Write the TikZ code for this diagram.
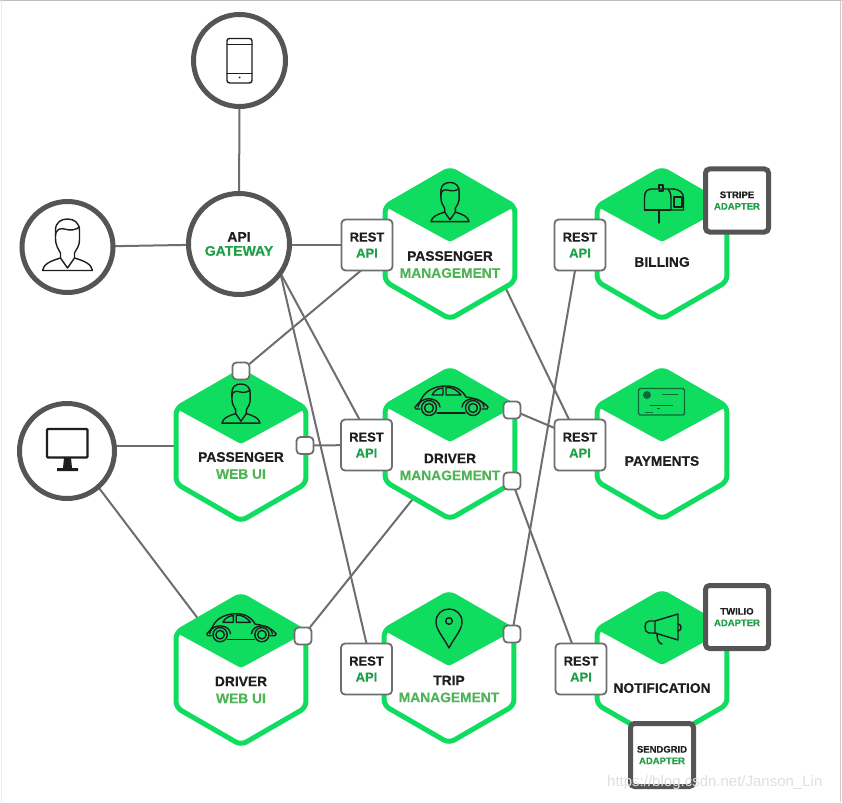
\documentclass[tikz,border=0pt]{standalone}
\usepackage{fontspec}
\setmainfont[BoldFeatures={FakeBold=0.3}]{Liberation Sans}
\usetikzlibrary{shapes.geometric,calc}
\definecolor{hexgreen}{HTML}{10DC60}
\definecolor{txtgreen}{HTML}{1F9F48}
\definecolor{lblgreen}{HTML}{4DB556}
\definecolor{ink}{HTML}{1E1E1E}
\definecolor{ringgray}{HTML}{555555}
\definecolor{wiregray}{HTML}{6E6E6E}
\definecolor{cardink}{HTML}{0C6A3A}
\pgfdeclarelayer{bg}
\pgfsetlayers{bg,main}
\tikzset{
  ring/.style={circle,draw=ringgray,line width=5pt,fill=white,inner sep=0pt,outer sep=0pt,minimum size=#1},
  hexshape/.style={regular polygon,regular polygon sides=6,shape border rotate=30,draw=hexgreen,line width=5pt,fill=white,rounded corners=6pt,inner sep=0pt,outer sep=0pt,minimum size=150pt},
  hexlabel/.style={align=center,text=ink,font=\bfseries\fontsize{13.8}{17}\selectfont,inner sep=0pt},
  restbox/.style={rectangle,draw=wiregray,line width=1.8pt,fill=white,rounded corners=4pt,minimum size=51pt,inner sep=0pt,outer sep=0pt,align=center,text=ink,font=\bfseries\fontsize{13}{16}\selectfont},
  portbox/.style={rectangle,draw=wiregray,line width=1.8pt,fill=white,rounded corners=4pt,minimum size=17pt,inner sep=0pt,outer sep=0pt},
  adapterbox/.style={rectangle,draw=ringgray,line width=5pt,fill=white,rounded corners=4pt,minimum size=63pt,inner sep=0pt,outer sep=0pt,align=center,text=ink,font=\bfseries\fontsize{9.5}{11.5}\selectfont},
  gwlabel/.style={ring=101pt,align=center,text=ink,font=\bfseries\fontsize{14}{14}\selectfont},
  wire/.style={draw=wiregray,line width=2pt},
  icon/.style={draw=ink,line width=1.4pt,line join=round,line cap=round},
  pics/personicon/.style={code={
    \draw[icon] (-12,-8) -- (-12,-16) .. controls (-12,-24) and (-6,-27) .. (0,-27)
      .. controls (7,-27) and (12,-23) .. (12,-15) -- (12,-6)
      .. controls (12,0) and (9,3) .. (7,7) -- (7,12)
      .. controls (17,15) and (24,18) .. (25,24.5) -- (-25,24.5)
      .. controls (-24,18) and (-17,15) .. (-7,12) -- (-7,7)
      .. controls (-9,3) and (-12,0) .. (-12,-8);
    \draw[icon] (-12,-10) .. controls (-12,-17) and (-7,-18) .. (-3,-17)
      .. controls (3,-15) and (8,-16) .. (12,-19);
    \draw[icon] (-7,12) -- (0,22) -- (7,12);
  }},
  pics/caricon/.style={code={
    \draw[icon] (-36,6) .. controls (-33,3) and (-31,1) .. (-29,-3)
      .. controls (-25,-11) and (-15,-15) .. (-5,-15)
      .. controls (5,-15) and (11,-11) .. (15,-4)
      .. controls (25,-3) and (33,1) .. (37,6) -- (36,8) -- (31,8);
    \draw[icon] (-36,6) -- (-35,8) -- (-31,8);
    \draw[icon] (-14,12) -- (14,12);
    \draw[icon] (-19,-6) .. controls (-17,-10) and (-13,-13) .. (-8,-13) -- (-8,-6) -- cycle;
    \draw[icon] (-5,-13.5) .. controls (1,-14) and (6,-11) .. (10,-6) -- (-5,-6) -- cycle;
    \draw[icon] (-22,7) circle[radius=7.5];
    \draw[icon] (-22,7) circle[radius=4.5];
    \draw[icon] (22,7) circle[radius=7.5];
    \draw[icon] (22,7) circle[radius=4.5];
    \draw[icon] (-33,6) .. controls (-32,-5) and (-12,-5) .. (-11,6);
    \draw[icon] (11,6) .. controls (12,-5) and (32,-5) .. (33,6);
  }}
}
\newcommand{\hexnode}[3]{%
  \node[hexshape] (#1) at (#2,#3) {};
  \fill[hexgreen,rounded corners=3pt,shift={(#2,#3)}] (-65,-37.5) -- (0,-75) -- (65,-37.5) -- (0,-2) -- cycle;
}
\newcommand{\grn}[1]{\textcolor{txtgreen}{#1}}
\newcommand{\lgr}[1]{\textcolor{lblgreen}{#1}}
\begin{document}
\begin{tikzpicture}[x=1pt,y=-1pt]
\useasboundingbox (0,0) rectangle (842,802);
\begin{pgfonlayer}{bg}
  \fill[white] (0,0) rectangle (842,802);
  \draw[draw=black!25,line width=1pt] (0,1) -- (842,1);
  \draw[draw=black!8,line width=1pt] (1,0) -- (1,802);
  \draw[draw=black!20,line width=1pt] (840,0) -- (840,802);
\end{pgfonlayer}

% hexagons
\hexnode{pm}{450}{244}
\hexnode{bill}{662}{244}
\hexnode{pw}{241}{446}
\hexnode{dm}{450}{444}
\hexnode{pay}{662}{444}
\hexnode{dw}{241}{670}
\hexnode{trip}{449}{668}
\hexnode{noti}{662}{667}

% circles
\node[ring=92pt] (phone) at (239.5,60.5) {};
\node[ring=91pt] (pers) at (67.5,247) {};
\node[ring=95pt] (mon) at (67,451) {};
\node[gwlabel] (gw) at (239,244) {API\\\grn{GATEWAY}};

% hexagon labels
\node[hexlabel] (pmt) at (450,264.5) {PASSENGER\\\lgr{MANAGEMENT}};
\node[hexlabel] (billt) at (662,262) {BILLING};
\node[hexlabel] (pwt) at (241,465.5) {PASSENGER\\\lgr{WEB UI}};
\node[hexlabel] (dmt) at (450,467) {DRIVER\\\lgr{MANAGEMENT}};
\node[hexlabel] (payt) at (662,461) {PAYMENTS};
\node[hexlabel] (dwt) at (241,690) {DRIVER\\\lgr{WEB UI}};
\node[hexlabel] (tript) at (449,689) {TRIP\\\lgr{MANAGEMENT}};
\node[hexlabel] (notit) at (662,688) {NOTIFICATION};

% REST boxes
\node[restbox] (r1) at (367,245) {REST\\\grn{API}};
\node[restbox] (r2) at (366.5,445) {REST\\\grn{API}};
\node[restbox] (r3) at (580,245) {REST\\\grn{API}};
\node[restbox] (r4) at (580,445) {REST\\\grn{API}};
\node[restbox] (r5) at (366.5,669) {REST\\\grn{API}};
\node[restbox] (r6) at (581,669) {REST\\\grn{API}};

% ports
\node[portbox] (pwtop) at (241,371) {};
\node[portbox] (pwright) at (305,445.5) {};
\node[portbox] (dmone) at (512,410) {};
\node[portbox] (dmtwo) at (512,481) {};
\node[portbox] (dwport) at (303,636) {};
\node[portbox] (tripport) at (512,634) {};

% adapters
\node[adapterbox] (stripe) at (737,200.5) {STRIPE\\\grn{ADAPTER}};
\node[adapterbox] (twilio) at (737,617) {TWILIO\\\grn{ADAPTER}};
\node[adapterbox] (sendgrid) at (662,755) {SENDGRID\\\grn{ADAPTER}};

% connectors
\begin{pgfonlayer}{bg}
  \draw[wire] (phone) -- (gw);
  \draw[wire] (pers) -- (gw);
  \draw[wire] (r1.west) -- (r1.west -| gw.east);
  \draw[wire] (gw.-35) -- ([xshift=-7pt]r2.north);
  \draw[wire] (gw.-35) -- (r5.north);
  \draw[wire] (pwtop) -- ([xshift=-6pt]r1.south);
  \draw[wire] (pwright) -- (r2);
  \draw[wire] (pm.-38) -- ([xshift=-11pt]r4.north);
  \draw[wire] (dmone) -- ([yshift=17pt]r4.west);
  \draw[wire] (dmtwo) -- ([xshift=-9pt]r6.north);
  \draw[wire] (tripport) -- ([xshift=-5pt]r3.south);
  \draw[wire] (dwport) -- (dm.-124);
  \draw[wire] (mon.6) -- (mon.6 -| pw.west);
  \draw[wire] (mon.-49) -- (dw.130);
\end{pgfonlayer}

% icons: people
\pic at (67.5,246) {personicon};
\pic[scale=.76] at (450,203) {personicon};
\pic[scale=.76] at (241,404.5) {personicon};
% cars
\pic at (451,401) {caricon};
\pic[scale=.95] at (241,628) {caricon};
% phone
\draw[icon] (227,41) .. controls (227,39) and (228,38.5) .. (230,38.5) -- (249,38.5) .. controls (251,38.5) and (252,39) .. (252,41) -- (252,80.5) .. controls (252,82) and (251,83) .. (249,83) -- (230,83) .. controls (228,83) and (227,82) .. (227,80.5) -- cycle;
\draw[icon] (227,44.5) -- (252,44.5);
\draw[icon] (227,73.5) -- (252,73.5);
\fill[ink] (239.5,77.5) circle[radius=1];
% monitor
\draw[draw=ink,line width=2.2pt,rounded corners=1pt] (47,429) rectangle (87.5,457.5);
\fill[ink] (64,458) -- (71,458) -- (72,468) -- (78,468) -- (78,471) -- (57,471) -- (57,468) -- (63,468) -- cycle;
% mailbox
\draw[icon] (644.5,210) -- (644.5,197) .. controls (644.5,191) and (648,189) .. (652,189) -- (672,189) .. controls (680,189) and (683.5,193) .. (683.5,198) -- (683.5,210) -- (670,210);
\draw[icon] (644.5,210) -- (670,210);
\draw[icon] (659,189) -- (659,185) -- (663,185) -- (663,191) -- (659,191);
\draw[icon] (659,210) -- (659,223);
\draw[icon] (674,197) rectangle (682,207);
\draw[icon] (668.5,190) .. controls (671,193) and (671,196) .. (671,198) -- (671,210);
% card
\draw[draw=cardink,line width=1.4pt,rounded corners=1.5pt] (638.5,388.5) rectangle (684.5,415);
\fill[cardink] (647,395) circle[radius=4];
\draw[draw=cardink,line width=.6pt] (662,394) -- (678,394);
\draw[draw=cardink,line width=.6pt] (650,405) -- (673,405);
\draw[draw=cardink,line width=.6pt] (657,408) -- (660,408);
\draw[draw=cardink,line width=.6pt] (645,412) -- (653,412);
% megaphone
\draw[icon] (655,621) -- (649,621) .. controls (646,621) and (645,624) .. (645,627) .. controls (645,630) and (646,633) .. (649,633) -- (655,633);
\draw[icon] (655,621) -- (678,614) -- (678,640) -- (655,633) -- cycle;
\draw[icon] (678,624) .. controls (682,624) and (682,631) .. (678,631);
\draw[icon] (657,633) .. controls (657,639) and (658,643) .. (662,644);
% pin
\draw[icon] (449,648) .. controls (444,638) and (436,630) .. (436,622) .. controls (436,614) and (442,609) .. (449,609) .. controls (456,609) and (462,614) .. (462,622) .. controls (462,630) and (454,638) .. (449,648);
\draw[icon] (449,621) circle[radius=3.3];

% watermark
\node[anchor=west,inner sep=0pt,text=black!12,font=\fontsize{15}{15}\selectfont] (wm) at (607,783) {https://blog.csdn.net/Janson\_Lin};
\end{tikzpicture}
\end{document}
